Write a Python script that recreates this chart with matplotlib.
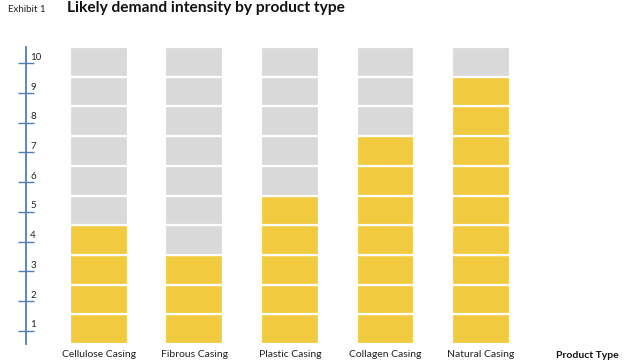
import matplotlib
matplotlib.use("Agg")
import matplotlib.pyplot as plt
import numpy as np

plt.rcParams['font.family'] = ['Lato', 'DejaVu Sans']

categories = ["Cellulose Casing", "Fibrous Casing", "Plastic Casing", "Collagen Casing", "Natural Casing"]
intensity = [4, 3, 5, 7, 9]
scale_levels = list(range(1, 11))
title = "Likely demand intensity by product type"
exhibit = "Exhibit 1"
axis_title = "Product Type"

GOLD = "#F2CA3F"
GRAY = "#D9D9D9"
AXIS = "#4F7DB5"

W, H = 624, 364
fig = plt.figure(figsize=(W / 100, H / 100), dpi=100)
# axes: left spine at x=26px, bottom at y=344px, top at y=47px
ax = fig.add_axes([26 / W, (H - 344) / H, (W - 26) / W, (344 - 47) / H])

x = np.arange(len(categories))
for i, v in enumerate(intensity):
    for k in scale_levels:
        ax.bar(x[i], 1, bottom=k - 1, width=0.607,
               color=GOLD if k <= v else GRAY,
               edgecolor="white", linewidth=1.6, zorder=2)

ax.set_xlim(-0.764, 5.497)
ax.set_ylim(0, 10)

for s in ["top", "right", "bottom"]:
    ax.spines[s].set_visible(False)
ax.spines["left"].set_color(AXIS)
ax.spines["left"].set_linewidth(1.3)

ax.set_yticks([k - 0.55 for k in scale_levels])
ax.tick_params(axis="y", direction="inout", length=12, width=1.0, color=AXIS,
               labelleft=False)
for k in scale_levels:
    ax.annotate(str(k), xy=(0, k - 0.55), xycoords=("axes fraction", "data"),
                xytext=(3, 1), textcoords="offset points",
                ha="left", va="bottom", fontsize=7, color="#222222")

ax.set_xticks(x)
ax.set_xticklabels(categories, fontsize=7.5, color="#222222")
ax.tick_params(axis="x", length=0, pad=4)

ax.annotate(axis_title, xy=(5.11, 0), xycoords="data", xytext=(0, -8.5),
            textcoords="offset points", ha="center", va="center",
            fontsize=7.5, fontweight="bold", color="#111111")

fig.text(8 / W, 1 - 9 / H, exhibit, ha="left", va="center", fontsize=7, color="#222222")
fig.text(67 / W, 1 - 8 / H, title, ha="left", va="center", fontsize=11.2,
         fontweight="bold", color="#111111")

fig.savefig("out.png", dpi=100)
